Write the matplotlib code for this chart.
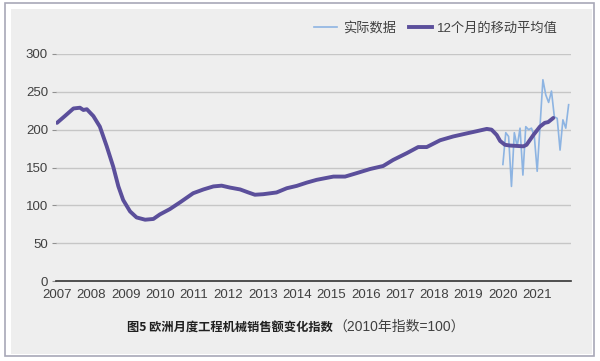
import matplotlib
matplotlib.use("Agg")
import matplotlib.pyplot as plt
from matplotlib.patches import Rectangle
from matplotlib.lines import Line2D

# ---- data ----
year_ticks = list(range(2007, 2022))
year_labels = [str(y) for y in year_ticks]
y_ticks = [0, 50, 100, 150, 200, 250, 300]

# 12-month moving average (decimal year, index value)
ma_t = [2007.00, 2007.23, 2007.48, 2007.67, 2007.77, 2007.87, 2008.06, 2008.25,
        2008.45, 2008.64, 2008.79, 2008.93, 2009.13, 2009.32, 2009.57, 2009.81,
        2010.00, 2010.29, 2010.59, 2010.97, 2011.27, 2011.56, 2011.80, 2012.04,
        2012.34, 2012.58, 2012.77, 2013.01, 2013.40, 2013.70, 2013.99, 2014.28,
        2014.57, 2014.91, 2015.06, 2015.40, 2015.74, 2016.13, 2016.51, 2016.80,
        2017.20, 2017.53, 2017.78, 2018.17, 2018.55, 2018.94, 2019.24, 2019.53,
        2019.67, 2019.82, 2019.92, 2020.06, 2020.21, 2020.60, 2020.69, 2020.89,
        2021.08, 2021.22, 2021.32, 2021.47]
ma_v = [209, 218, 228, 229, 226, 227, 218, 204,
        178, 151, 125, 107, 92, 84, 81, 82,
        88, 95, 104, 116, 121, 125, 126, 123.5,
        121, 117, 114, 114.7, 117, 122.6, 125.7, 130,
        133.7, 136.7, 138, 138, 142.6, 148, 152, 160,
        169, 177, 177, 186, 191, 195, 198, 201,
        200, 193, 185, 180, 179, 178, 180, 193,
        204, 209, 210, 215.5]

# actual monthly data, Jan 2020 - Dec 2021
act_t = [2020 + i / 12 for i in range(24)]
act_v = [154, 196, 191, 125, 196, 178, 202, 140, 204, 200, 202, 191,
         145, 205, 266, 246, 236, 251, 217, 215, 173, 213, 202, 233]

legend_labels = ["实际数据", "12个月的移动平均值"]
title_bold = "图5 欧洲月度工程机械销售额变化指数"
title_reg = "（2010年指数=100）"

# ---- style ----
W, H = 600, 361
BG = "#eeeeee"
BLUE = "#8db4e2"
PURPLE = "#5b4f9b"
TXT = "#404040"
FONT = ["Liberation Sans", "Noto Sans CJK SC", "DejaVu Sans"]
CJK = ["Noto Sans CJK SC", "Liberation Sans", "DejaVu Sans"]
plt.rcParams["font.family"] = FONT

fig = plt.figure(figsize=(W / 100, H / 100), dpi=100, facecolor="white")

def fx(px):
    return px / W

def fy(py):
    return 1 - py / H

# panel background and border
fig.patches.append(Rectangle((fx(11), fy(354)), fx(581), 345 / H,
                             transform=fig.transFigure, facecolor=BG,
                             edgecolor="none", zorder=-3))
fig.patches.append(Rectangle((fx(5), fy(356)), fx(589), 353 / H,
                             transform=fig.transFigure, facecolor="none",
                             edgecolor="#a8a8b8", linewidth=1.2, zorder=-2))

ax_left, ax_right = 56.3, 570.8
ax_top, ax_bot = 54, 281
ax = fig.add_axes([fx(ax_left), fy(ax_bot), fx(ax_right - ax_left),
                   (ax_bot - ax_top) / H])
ax.set_zorder(2)
ax.patch.set_visible(False)
ax.set_xlim(2006.98, 2021.98)
ax.set_ylim(0, 300)

ax.set_yticks(y_ticks)
ax.set_yticklabels([str(v) for v in y_ticks])
ax.set_xticks(year_ticks)
ax.set_xticklabels(year_labels)
ax.tick_params(axis="y", length=3, color="#909090", labelsize=9.5,
               labelcolor=TXT, pad=3)
ax.tick_params(axis="x", length=0, labelsize=9.5, labelcolor=TXT, pad=6)

for s in ["top", "right", "left"]:
    ax.spines[s].set_visible(False)
ax.spines["bottom"].set_color("#333333")
ax.spines["bottom"].set_linewidth(1.2)

for v in y_ticks[1:]:
    ax.axhline(v, color="#c6c6c6", linewidth=1.0, zorder=1)

ax.plot(act_t, act_v, color=BLUE, linewidth=1.2, zorder=3)
ax.plot(ma_t, ma_v, color=PURPLE, linewidth=2.8, zorder=4,
        solid_capstyle="round", solid_joinstyle="round")

# legend
handles = [Line2D([], [], color=BLUE, linewidth=1.2),
           Line2D([], [], color=PURPLE, linewidth=2.8)]
leg = fig.legend(handles, legend_labels, loc="center right",
                 bbox_to_anchor=(fx(558), fy(28)), ncol=2, frameon=False,
                 prop={"family": FONT, "size": 9.5}, handlelength=1.75,
                 handletextpad=0.4, columnspacing=1.0, borderaxespad=0,
                 borderpad=0)
for t in leg.get_texts():
    t.set_color(TXT)

# caption
split_x = 333
fig.text(fx(split_x), fy(327), title_bold, ha="right", va="center",
         fontsize=8.8, fontweight="bold", color="#202020", family=CJK)
fig.text(fx(split_x), fy(327), title_reg, ha="left", va="center",
         fontsize=10, color=TXT, family=FONT)

fig.savefig("out.png", dpi=100, facecolor="white")
